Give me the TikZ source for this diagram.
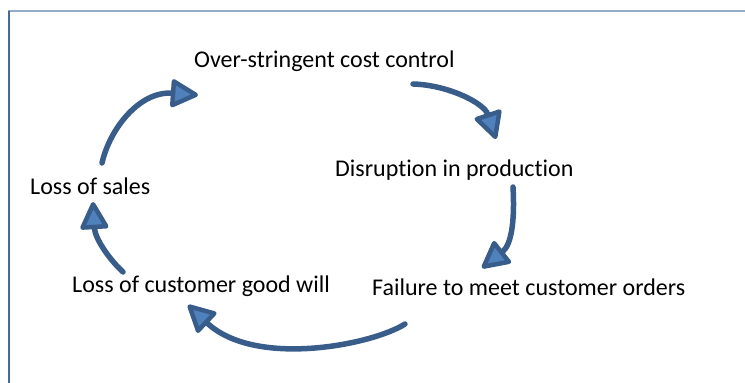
\documentclass[tikz,border=0pt]{standalone}
\usepackage{fontspec}
\setmainfont{Carlito}[Ligatures=NoCommon]
\usetikzlibrary{arrows.meta}
\definecolor{cyclestroke}{HTML}{385D8A}
\definecolor{cyclefill}{HTML}{4F81BD}
\definecolor{frametop}{HTML}{95ABC6}
\definecolor{frameleft}{HTML}{46699A}
\begin{document}
\begin{tikzpicture}[x=1pt,y=1pt,
    cyclelabel/.style={anchor=base west, inner sep=0pt, font=\fontsize{24}{28}\selectfont},
    cyclearrow/.style={line width=5.5pt, draw=cyclestroke, line cap=round,
        -{Triangle[length=30pt, width=30pt, line width=4.5pt, fill=cyclefill, round]}}]
    \useasboundingbox (0,0) rectangle (745,383);
    \draw[frametop, line width=2pt] (8,372) -- (745,372);
    \draw[frameleft, line width=2pt] (8.5,372) -- (8.5,0);
    \node[cyclelabel] at (194,315) (cost) {Over-stringent cost control};
    \node[cyclelabel] at (335,206) (disr) {Disruption in production};
    \node[cyclelabel] at (372,87) (fail) {Failure to meet customer orders};
    \node[cyclelabel] at (72,90) (goodw) {Loss of customer good will};
    \node[cyclelabel] at (30,188) (sales) {Loss of sales};
    % arrow ends
    \coordinate (s1) at (413,299); \coordinate (e1) at (496,244);
    \coordinate (s2) at (513,196); \coordinate (e2) at (482,115);
    \coordinate (s3) at (405,59);  \coordinate (e3) at (188,78);
    \coordinate (s4) at (123,111); \coordinate (e4) at (93,181);
    \coordinate (s5) at (102,220); \coordinate (e5) at (198,288);
    \draw[cyclearrow] (s1) .. controls (448,298) and (484,280) .. (e1);
    \draw[cyclearrow] (s2) .. controls (515,160) and (511,138) .. (e2);
    \draw[cyclearrow] (s3) .. controls (372,38) and (255,15) .. (e3);
    \draw[cyclearrow] (s4) .. controls (108,125) and (95,145) .. (e4);
    \draw[cyclearrow] (s5) .. controls (110,255) and (140,292) .. (e5);
\end{tikzpicture}
\end{document}
